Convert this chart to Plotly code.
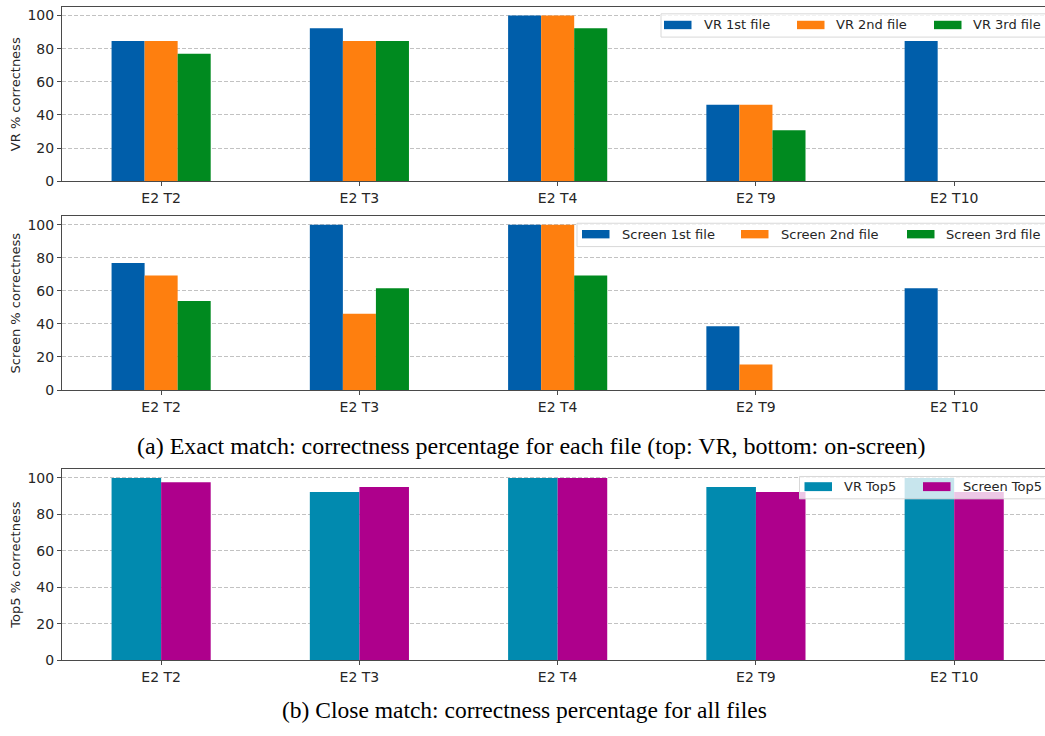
import plotly.graph_objects as go

# ---- data -------------------------------------------------------------
categories = ["E2 T2", "E2 T3", "E2 T4", "E2 T9", "E2 T10"]

vr_1st = [84.6, 92.3, 100.0, 46.2, 84.6]
vr_2nd = [84.6, 84.6, 100.0, 46.2, 0.0]
vr_3rd = [76.9, 84.6, 92.3, 30.8, 0.0]

screen_1st = [76.9, 100.0, 100.0, 38.5, 61.5]
screen_2nd = [69.2, 46.2, 100.0, 15.4, 0.0]
screen_3rd = [53.8, 61.5, 69.2, 0.0, 0.0]

vr_top5 = [100.0, 92.3, 100.0, 95.1, 100.0]
screen_top5 = [97.6, 95.1, 100.0, 92.3, 92.3]

y_ticks = [0, 20, 40, 60, 80, 100]

# ---- styling ----------------------------------------------------------
W, H = 1045, 736
ML = 62
BLUE, ORANGE, GREEN = "#005eaa", "#fe7f0f", "#008a1f"
TEAL, MAGENTA = "#018aaf", "#ae008c"
SANS = "DejaVu Sans"
SERIF = "Liberation Serif"
AXIS_COLOR = "#4a4a4a"
TEXT_COLOR = "#262626"


def px_x(px):
    return (px - ML) / (W - ML)


def px_y(py):
    return 1 - py / H


fig = go.Figure()

panels = [
    ("x", "y", [("VR 1st file", vr_1st, BLUE),
                ("VR 2nd file", vr_2nd, ORANGE),
                ("VR 3rd file", vr_3rd, GREEN)]),
    ("x2", "y2", [("Screen 1st file", screen_1st, BLUE),
                  ("Screen 2nd file", screen_2nd, ORANGE),
                  ("Screen 3rd file", screen_3rd, GREEN)]),
    ("x3", "y3", [("VR Top5", vr_top5, TEAL),
                  ("Screen Top5", screen_top5, MAGENTA)]),
]

for xa, ya, series in panels:
    for name, vals, col in series:
        fig.add_trace(go.Bar(
            x=categories, y=vals, name=name, xaxis=xa, yaxis=ya,
            marker=dict(color=col, line=dict(width=0)),
            showlegend=False,
        ))

# panel vertical extents in pixels (top, bottom)
extents = [(7.3, 183.3), (218.8, 394.3), (474.0, 667.7)]
titles = ["VR % correctness", "Screen % correctness", "Top5 % correctness"]

layout = dict(
    width=W, height=H,
    margin=dict(l=ML, r=0, t=0, b=0),
    plot_bgcolor="white", paper_bgcolor="white",
    barmode="group", bargap=0.5, bargroupgap=0,
    font=dict(family=SANS, size=14, color=TEXT_COLOR),
)

for i, ((top, bot), title) in enumerate(zip(extents, titles)):
    sfx = "" if i == 0 else str(i + 1)
    layout["xaxis" + sfx] = dict(
        domain=[0, 1], anchor="y" + sfx,
        type="category", categoryorder="array", categoryarray=categories,
        range=[-0.5, 4.458],
        showline=True, linecolor=AXIS_COLOR, linewidth=1, mirror=True,
        ticks="outside", ticklen=4, tickcolor=AXIS_COLOR,
        showgrid=False, zeroline=False,
        tickfont=dict(family=SANS, size=14, color=TEXT_COLOR),
    )
    layout["yaxis" + sfx] = dict(
        domain=[px_y(bot), px_y(top)], anchor="x" + sfx,
        range=[0, 105], tickvals=y_ticks,
        showline=True, linecolor=AXIS_COLOR, linewidth=1, mirror=False,
        ticks="outside", ticklen=4, tickcolor=AXIS_COLOR,
        showgrid=True, gridcolor="#c2c2c2", griddash="4px,2px", gridwidth=1,
        zeroline=False,
        tickfont=dict(family=SANS, size=14, color=TEXT_COLOR),
        title=dict(text=title, standoff=3,
                   font=dict(family=SANS, size=13, color=TEXT_COLOR)),
    )

fig.update_layout(**layout)

# ---- legends (drawn as boxes with colour patches and labels) ----------
legends = [
    # box left, box top, box bottom, patch top, patch bottom, entries
    (661, 14, 37.5, 21, 29.5,
     [(664, 702, "VR 1st file", BLUE),
      (797, 834, "VR 2nd file", ORANGE),
      (934, 971, "VR 3rd file", GREEN)]),
    (577, 225.7, 249.3, 232.5, 241,
     [(582, 620, "Screen 1st file", BLUE),
      (741, 779, "Screen 2nd file", ORANGE),
      (907, 944, "Screen 3rd file", GREEN)]),
    (799.5, 481.7, 504.3, 487.5, 496.5,
     [(804.5, 842, "VR Top5", TEAL),
      (923, 961, "Screen Top5", MAGENTA)]),
]

shapes = []
annotations = []
for left, btop, bbot, ptop, pbot, entries in legends:
    shapes.append(dict(
        type="rect", xref="paper", yref="paper",
        x0=px_x(left), x1=px_x(W + 10), y0=px_y(bbot), y1=px_y(btop),
        fillcolor="rgba(255,255,255,0.78)",
        line=dict(color="#d8d8d8", width=1), layer="above",
    ))
    for p0, tx, label, col in entries:
        shapes.append(dict(
            type="rect", xref="paper", yref="paper",
            x0=px_x(p0), x1=px_x(p0 + 27.5), y0=px_y(pbot), y1=px_y(ptop),
            fillcolor=col, line=dict(width=0), layer="above",
        ))
        annotations.append(dict(
            xref="paper", yref="paper", x=px_x(tx), y=px_y((ptop + pbot) / 2),
            text=label, showarrow=False, xanchor="left", yanchor="middle",
            font=dict(family=SANS, size=13, color=TEXT_COLOR),
        ))

# ---- captions ---------------------------------------------------------
annotations.append(dict(
    xref="paper", yref="paper", x=px_x(531), y=px_y(451),
    text="(a) Exact match: correctness percentage for each file (top: VR, bottom: on-screen)",
    showarrow=False, xanchor="center", yanchor="middle",
    font=dict(family=SERIF, size=24, color="black"),
))
annotations.append(dict(
    xref="paper", yref="paper", x=px_x(524), y=px_y(718),
    text="(b) Close match: correctness percentage for all files",
    showarrow=False, xanchor="center", yanchor="middle",
    font=dict(family=SERIF, size=23.5, color="black"),
))

fig.update_layout(shapes=shapes, annotations=annotations)

fig.write_html("out.html")
